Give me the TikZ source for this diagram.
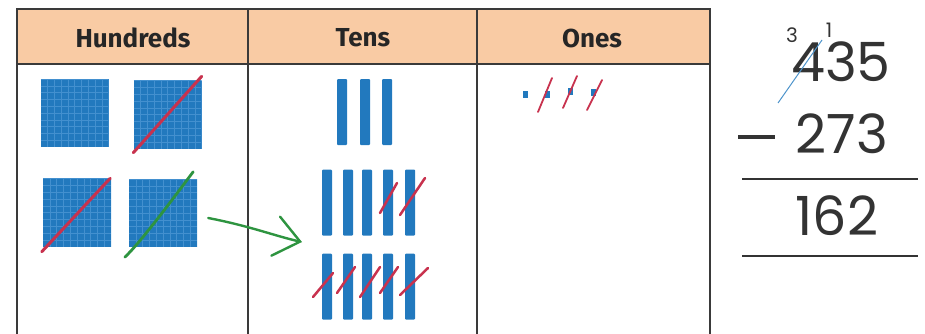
\documentclass[tikz,border=0pt]{standalone}
\usepackage{fontspec}
\setmainfont{Fira Sans}
\newfontfamily\numfont{Poppins}
\usetikzlibrary{arrows.meta}

\definecolor{peach}{HTML}{F9CBA4}
\definecolor{blockblue}{HTML}{2279BE}
\definecolor{gridblue}{HTML}{4390CF}
\definecolor{slashred}{HTML}{C8324E}
\definecolor{arrowgreen}{HTML}{2E9440}
\definecolor{framegray}{HTML}{3A3A3A}

\tikzset{
  flat/.style={fill=blockblue, inner sep=0pt, minimum size=68pt,
    path picture={\draw[gridblue, line width=0.4pt, step=6.8pt]
      (path picture bounding box.south west) grid (path picture bounding box.north east);}},
  rod/.style={fill=blockblue, inner sep=0pt, minimum width=10pt, minimum height=66pt, rounded corners=1pt},
  unit/.style={fill=blockblue, inner sep=0pt, minimum width=5pt, minimum height=7pt},
  cross/.style={slashred, line width=2.5pt, line cap=round},
  header/.style={font=\fontsize{26}{28}\selectfont\bfseries, text=black!85},
  digits/.style={font=\numfont\fontsize{54}{60}\selectfont, text=black!80},
  carry/.style={font=\numfont\fontsize{20}{22}\selectfont, text=black!80, inner sep=1pt},
}

\begin{document}
\begin{tikzpicture}[x=1pt, y=-1pt]
\useasboundingbox (0,0) rectangle (925,333);

% place value table
\fill[peach] (17,9) rectangle (710,64);
\draw[framegray, line width=2pt] (17,340) -- (17,9) -- (710,9) -- (710,340);
\draw[framegray, line width=2pt] (17,64) -- (710,64);
\draw[framegray, line width=1.6pt] (248,9) -- (248,340);
\draw[framegray, line width=1.6pt] (477,9) -- (477,340);
\node[header] (hdrH) at (133,38) {Hundreds};
\node[header] (hdrT) at (363,38) {Tens};
\node[header] (hdrO) at (592,38) {Ones};

% hundreds
\node[flat] (sq1) at (74.5,113) {};
\node[flat] (sq2) at (167.5,114.5) {};
\node[flat] (sq3) at (77,212.5) {};
\node[flat] (sq4) at (163,213) {};
\draw[cross, line width=3pt] ([shift={(0,4)}]sq2.south west) -- ([shift={(0,-4)}]sq2.north east);
\draw[cross, line width=3pt] ([shift={(-1,5)}]sq3.south west) -- ([shift={(-1,0)}]sq3.north east);
\draw[arrowgreen, line width=2.8pt, line cap=round]
  ([shift={(-4,10)}]sq4.south west) .. controls (140,243) and (172,200) .. ([shift={(-4,-7)}]sq4.north east);

% regrouped hundred
\coordinate (tip) at (302,242);
\draw[arrowgreen, line width=2.4pt, line cap=round, -{Straight Barb[length=25pt, width=40pt, line cap=round]}]
  ([shift={(11,5)}]sq4.east) .. controls (250,226) and (275,236) .. (tip);

% tens
\foreach \x [count=\i] in {342,365,387}
  \node[rod] (top\i) at (\x,112) {};
\foreach \x [count=\i] in {327,348,367,388,410} {
  \node[rod] (mid\i) at (\x,202.5) {};
  \node[rod] (low\i) at (\x,286.5) {};
}
\draw[cross] (380,213) -- (397,183);
\draw[cross] (400,215) -- (425,178);
\draw[cross] (313,297) -- (333,273);
\draw[cross] (337,293) -- (355,267);
\draw[cross] (360,297) -- (380,267);
\draw[cross] (380,293) -- (398,267);
\draw[cross] (400,295) -- (428,268);

% ones
\node[unit] (one0) at (525,94) {};
\foreach \x/\y [count=\i] in {547/94,570/91,593/92} {
  \node[unit] (one\i) at (\x,\y) {};
}
\draw[cross, line width=1.8pt] (538,112) -- (552,78);
\draw[cross, line width=1.8pt] (563,108) -- (577,76);
\draw[cross, line width=1.8pt] (587,110) -- (602,80);

% column subtraction
\node[digits] (top) at (841,62) {435};
\node[digits] (sub) at (842,134) {273};
\node[digits] (res) at (837,216) {162};
\node[carry] (c3) at (792,35) {3};
\node[carry] (c1) at (829,30) {1};
\draw[blockblue!80, line width=1pt] (778,103) -- (822,40);
\draw[black!80, line width=3.5pt] (738,137) -- (775,137);
\draw[black!80, line width=1.6pt] (742,179) -- (918,179);
\draw[black!80, line width=1.6pt] (742,256) -- (918,256);
\end{tikzpicture}
\end{document}
